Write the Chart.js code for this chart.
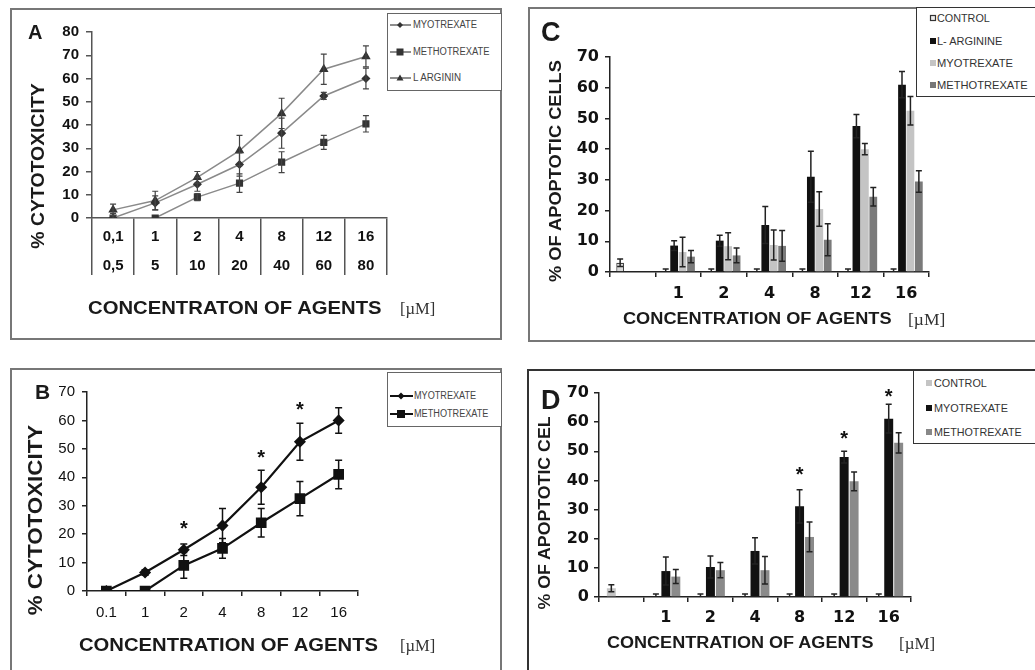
<!DOCTYPE html>
<html>
<head>
<meta charset="utf-8">
<script src="https://cdn.jsdelivr.net/npm/chart.js@4.4.0/dist/chart.umd.min.js"></script>
<style>
body{margin:0;width:1035px;height:670px;position:relative;overflow:hidden;background:#fff;font-family:"Liberation Sans",Arial,sans-serif;color:#1a1a1a}
.box{position:absolute;box-sizing:border-box;border:2px solid #777}
canvas{position:absolute}
.t{position:absolute;white-space:nowrap;line-height:1;transform:translateY(-50%);transform-origin:left center}
.b{font-weight:bold}
.yt{position:absolute;white-space:nowrap;line-height:1;font-weight:bold;transform:translate(-50%,-50%) rotate(-90deg)}
.um{font-family:"Liberation Serif","DejaVu Serif",serif;font-size:17px;color:#333}
.leg{position:absolute;box-sizing:border-box;border:1.5px solid #666;background:#fff}
.li{position:absolute;font-size:10px;color:#444;line-height:1;transform:translateY(-50%);white-space:nowrap;transform-origin:left center}
.lb{position:absolute;font-size:11px;color:#333;line-height:1;transform:translateY(-50%);white-space:nowrap;transform-origin:left center}
svg{position:absolute;overflow:visible}
</style>
</head>
<body>
<div class="box" style="left:10px;top:8px;width:492px;height:332px"></div>
<div class="box" style="left:10px;top:368px;width:492px;height:320px"></div>
<div class="box" style="left:528px;top:7px;width:520px;height:335px"></div>
<div class="box" style="left:527px;top:369px;width:520px;height:320px;border-color:#333"></div>

<canvas id="cA" width="492" height="332" style="left:10px;top:8px"></canvas>
<canvas id="cB" width="492" height="302" style="left:10px;top:368px"></canvas>
<canvas id="cC" width="507" height="334" style="left:528px;top:7px"></canvas>
<canvas id="cD" width="508" height="301" style="left:527px;top:369px"></canvas>

<!-- panel A texts -->
<div class="t b" style="left:28px;top:32px;font-size:20px">A</div>
<div class="yt" data-w="165" style="left:38px;top:166px;font-size:18px">% CYTOTOXICITY</div>
<div class="t b" data-w="294" style="left:88px;top:308px;font-size:18px">CONCENTRATON OF AGENTS</div>
<div class="t um" data-w="35" style="left:400px;top:308px">[µM]</div>
<div class="leg" style="left:387px;top:13px;width:115px;height:78px"></div>
<svg style="left:0;top:0" width="1" height="1">
  <g stroke="#444" stroke-width="1.2"><line x1="390" y1="25" x2="411" y2="25"/><line x1="390" y1="52" x2="411" y2="52"/><line x1="390" y1="78" x2="411" y2="78"/></g>
  <g fill="#333"><polygon points="400,22 403,25 400,28 397,25"/><rect x="396.5" y="48.5" width="7" height="7"/><polygon points="400,74.5 403.5,80.5 396.5,80.5"/></g>
</svg>
<div class="li" data-w="64" style="left:413px;top:25px">MYOTREXATE</div>
<div class="li" data-w="76" style="left:413px;top:52px">METHOTREXATE</div>
<div class="li" data-w="48" style="left:413px;top:78px">L ARGININ</div>

<!-- panel B texts -->
<div class="t b" style="left:35px;top:391px;font-size:21px">B</div>
<div class="yt" data-w="190" style="left:35px;top:520px;font-size:20px">% CYTOTOXICITY</div>
<div class="t b" data-w="299" style="left:79px;top:645px;font-size:18px">CONCENTRATION OF AGENTS</div>
<div class="t um" data-w="35" style="left:400px;top:645px">[µM]</div>
<div class="leg" style="left:387px;top:372px;width:115px;height:55px"></div>
<svg style="left:0;top:0" width="1" height="1">
  <g stroke="#111" stroke-width="2"><line x1="390" y1="396" x2="413" y2="396"/><line x1="390" y1="414" x2="413" y2="414"/></g>
  <g fill="#111"><polygon points="401,392.5 404.5,396 401,399.5 397.5,396"/><rect x="397" y="410" width="8" height="8"/></g>
</svg>
<div class="li" data-w="62" style="left:414px;top:396px">MYOTREXATE</div>
<div class="li" data-w="74" style="left:414px;top:414px">METHOTREXATE</div>

<!-- panel C texts -->
<div class="t b" style="left:541px;top:32px;font-size:27px">C</div>
<div class="yt" data-w="222" style="left:555px;top:171px;font-size:17px">% OF APOPTOTIC CELLS</div>
<div class="t b" data-w="268" style="left:623px;top:319px;font-size:16px">CONCENTRATION OF AGENTS</div>
<div class="t um" data-w="37" style="left:908px;top:319px">[µM]</div>
<div class="leg" style="left:916px;top:7px;width:130px;height:90px;border-color:#333"></div>
<svg style="left:0;top:0" width="1" height="1">
  <rect x="930.5" y="15.5" width="5" height="5" fill="#eee" stroke="#333" stroke-width="1.2"/>
  <rect x="930" y="38" width="6" height="6" fill="#111"/>
  <rect x="930" y="60" width="6" height="6" fill="#c4c4c4"/>
  <rect x="930" y="82" width="6" height="6" fill="#777"/>
</svg>
<div class="lb" data-w="53" style="left:937px;top:18px">CONTROL</div>
<div class="lb" data-w="65" style="left:937px;top:41px">L- ARGININE</div>
<div class="lb" data-w="76" style="left:937px;top:63px">MYOTREXATE</div>
<div class="lb" data-w="91" style="left:937px;top:85px">METHOTREXATE</div>

<!-- panel D texts -->
<div class="t b" style="left:541px;top:400px;font-size:27px">D</div>
<div class="yt" data-w="193" style="left:544px;top:513px;font-size:17px">% OF APOPTOTIC CEL</div>
<div class="t b" data-w="266" style="left:607px;top:643px;font-size:16px">CONCENTRATION OF AGENTS</div>
<div class="t um" data-w="36" style="left:899px;top:643px">[µM]</div>
<div class="leg" style="left:913px;top:370px;width:130px;height:74px;border-color:#333"></div>
<svg style="left:0;top:0" width="1" height="1">
  <rect x="926" y="380" width="6" height="6" fill="#c4c4c4"/>
  <rect x="926" y="405" width="6" height="6" fill="#111"/>
  <rect x="926" y="429" width="6" height="6" fill="#888"/>
</svg>
<div class="lb" data-w="53" style="left:934px;top:383px">CONTROL</div>
<div class="lb" data-w="74" style="left:934px;top:408px">MYOTREXATE</div>
<div class="lb" data-w="88" style="left:934px;top:432px">METHOTREXATE</div>

<script>
// panel A: cytotoxicity, two rows of concentrations
const concA = ["0,1", "1", "2", "4", "8", "12", "16"];
const concA2 = ["0,5", "5", "10", "20", "40", "60", "80"];
const myoA = [0, 6.5, 14.5, 23, 36.5, 52.5, 60];
const myoAErr = [2, 3, 3, 5, 6.5, 1.5, 4.5];
const methoA = [0, 0, 9, 15, 24, 32.5, 40.5];
const methoAErr = [0, 0, 1.5, 4, 4.5, 3, 3.5];
const argA = [3.5, 7.5, 17.5, 29, 45, 64, 69.5];
const argAErr = [2.5, 4, 2.5, 6.5, 6.5, 6.5, 4.5];

// panel B
const concB = ["0.1", "1", "2", "4", "8", "12", "16"];
const myoB = [0, 6.5, 14.5, 23, 36.5, 52.5, 60];
const myoBErr = [0, 1, 2, 6, 6, 6.5, 4.5];
const methoB = [0, 0, 9, 15, 24, 32.5, 41];
const methoBErr = [0, 0, 4.5, 3.5, 5, 6, 5];
const starsB = [null, null, 23, null, 48, 65, null];

// panels C and D: apoptotic cells
const concCD = ["", "1", "2", "4", "8", "12", "16"];
const ctrlC = [3, 0, 0, 0, 0, 0, 0];
const ctrlCErr = [1.2, 1, 1, 1, 1, 1, 1];
const argC = [null, 8.6, 10.2, 15.3, 31, 47.5, 61];
const argCErr = [0, 1.6, 1.8, 6, 8.3, 3.8, 4.3];
const myoC = [null, 6.5, 8.4, 8.8, 20.5, 40, 52.5];
const myoCErr = [0, 4.8, 4.4, 4.9, 5.6, 1.8, 4.6];
const methoC = [null, 5, 5.4, 8.5, 10.5, 24.5, 29.5];
const methoCErr = [0, 2, 2.4, 5, 5.2, 3, 3.5];

const ctrlD = [3, 0, 0, 0, 0, 0, 0];
const ctrlDErr = [1.2, 1, 1, 1, 1, 1, 1];
const myoD = [null, 8.9, 10.3, 15.8, 31.1, 48, 61.2];
const myoDErr = [0, 4.8, 3.8, 4.5, 5.7, 2, 4.9];
const methoD = [null, 7, 9.2, 9.2, 20.6, 39.7, 52.9];
const methoDErr = [0, 2.4, 2.6, 4.7, 5.1, 3.2, 3.5];
const starsD = [null, null, null, null, 43, 55.5, 69.8];

const SANS = "'Liberation Sans', Arial, sans-serif";
const WIDE = "'DejaVu Sans', sans-serif";

// error bars drawn from each dataset's "errors" array through the y scale
const errorBars = {
  id: "errorBars",
  afterDatasetsDraw(chart, args, opts) {
    const ctx = chart.ctx, y = chart.scales.y;
    chart.data.datasets.forEach((ds, i) => {
      if (!ds.errors) return;
      const meta = chart.getDatasetMeta(i);
      meta.data.forEach((el, j) => {
        const v = ds.data[j], e = ds.errors[j];
        if (v == null || !e) return;
        const top = y.getPixelForValue(v + e);
        const bot = y.getPixelForValue(Math.max(v - e, 0));
        ctx.save();
        ctx.strokeStyle = opts.color;
        ctx.lineWidth = opts.width;
        ctx.beginPath();
        ctx.moveTo(el.x, top); ctx.lineTo(el.x, bot);
        ctx.moveTo(el.x - opts.cap, top); ctx.lineTo(el.x + opts.cap, top);
        if (v - e > 0) { ctx.moveTo(el.x - opts.cap, bot); ctx.lineTo(el.x + opts.cap, bot); }
        ctx.stroke();
        ctx.restore();
      });
    });
  }
};

const stars = {
  id: "stars",
  afterDatasetsDraw(chart, args, opts) {
    if (!opts.values) return;
    const ctx = chart.ctx, meta = chart.getDatasetMeta(opts.dataset);
    ctx.save();
    ctx.fillStyle = "#111";
    ctx.font = "bold 20px " + SANS;
    ctx.textAlign = "center";
    ctx.textBaseline = "middle";
    opts.values.forEach((v, j) => {
      if (v == null) return;
      ctx.fillText("*", meta.data[j].x, chart.scales.y.getPixelForValue(v) + 4);
    });
    ctx.restore();
  }
};

function yAxis(max, width, font, color, tick, pad) {
  return {
    min: 0, max: max,
    ticks: { stepSize: 10, padding: pad, color: "#111", font: font },
    grid: { drawOnChartArea: false, tickLength: tick, color: color, lineWidth: 1.5 },
    border: { color: color, width: 1.5 },
    afterFit: s => { s.width = width; }
  };
}

function xAxis(height, font, color, tick, pad) {
  return {
    offset: true,
    ticks: { padding: pad, color: "#111", font: font, maxRotation: 0, autoSkip: false },
    grid: { offset: true, drawOnChartArea: false, tickLength: tick, color: color, lineWidth: 1.5 },
    border: { color: color, width: 1.5 },
    afterFit: s => { s.height = height; }
  };
}

function base(padding, errOpts, starOpts) {
  return {
    responsive: false, animation: false, devicePixelRatio: 1,
    layout: { padding: padding },
    plugins: {
      legend: { display: false }, tooltip: { enabled: false },
      errorBars: errOpts, stars: starOpts || {}
    }
  };
}

// A
const optA = base({ top: 24, left: 0, right: 115, bottom: 0 }, { color: "#444", width: 1.2, cap: 3 });
optA.scales = {
  x: xAxis(122, { family: SANS, size: 15, weight: "bold", lineHeight: "29px" }, "#555", 57, -52.5),
  y: yAxis(80, 82, { family: SANS, size: 15, weight: "bold", lineHeight: 1 }, "#555", 6, 7)
};
new Chart(document.getElementById("cA"), {
  type: "line",
  data: {
    labels: concA.map((c, i) => [c, concA2[i]]),
    datasets: [
      { data: argA, errors: argAErr, borderColor: "#8a8a8a", borderWidth: 1.5, pointStyle: "triangle", pointRadius: 4, backgroundColor: "#333", pointBorderColor: "#333" },
      { data: myoA, errors: myoAErr, borderColor: "#8a8a8a", borderWidth: 1.5, pointStyle: "rectRot", pointRadius: 3.5, backgroundColor: "#333", pointBorderColor: "#333" },
      { data: methoA, errors: methoAErr, borderColor: "#8a8a8a", borderWidth: 1.5, pointStyle: "rect", pointRadius: 4, backgroundColor: "#333", pointBorderColor: "#333" }
    ]
  },
  options: optA,
  plugins: [errorBars, stars]
});

// B
const optB = base({ top: 24, left: 0, right: 144, bottom: 0 }, { color: "#111", width: 1.5, cap: 3.5 }, { values: starsB, dataset: 0 });
optB.scales = {
  x: xAxis(79, { family: SANS, size: 15, lineHeight: 1.2 }, "#222", 5, 8),
  y: yAxis(70, 77, { family: SANS, size: 15, lineHeight: 1 }, "#222", 5, 7)
};
new Chart(document.getElementById("cB"), {
  type: "line",
  data: {
    labels: concB,
    datasets: [
      { data: myoB, errors: myoBErr, borderColor: "#111", borderWidth: 2.2, pointStyle: "rectRot", pointRadius: 4.5, backgroundColor: "#111", pointBorderColor: "#111" },
      { data: methoB, errors: methoBErr, borderColor: "#111", borderWidth: 2.2, pointStyle: "rect", pointRadius: 6, backgroundColor: "#111", pointBorderColor: "#111" }
    ]
  },
  options: optB,
  plugins: [errorBars, stars]
});

// C
const optC = base({ top: 50, left: 0, right: 106, bottom: 0 }, { color: "#222", width: 1.5, cap: 3 });
optC.scales = {
  x: Object.assign(xAxis(69, { family: WIDE, size: 16, weight: "bold", lineHeight: 1.2 }, "#222", 5, 7), { categoryPercentage: 0.74 }),
  y: yAxis(70, 82, { family: WIDE, size: 16, weight: "bold", lineHeight: 1 }, "#222", 5, 6)
};
new Chart(document.getElementById("cC"), {
  type: "bar",
  data: {
    labels: concCD,
    datasets: [
      { data: ctrlC, errors: ctrlCErr, backgroundColor: "#dadada", borderColor: "#444", borderWidth: [1.2, 0, 0, 0, 0, 0, 0] },
      { data: argC, errors: argCErr, backgroundColor: "#111" },
      { data: myoC, errors: myoCErr, backgroundColor: "#c4c4c4" },
      { data: methoC, errors: methoCErr, backgroundColor: "#7a7a7a" }
    ]
  },
  options: Object.assign(optC, { datasets: { bar: { categoryPercentage: 0.74, barPercentage: 0.92 } } }),
  plugins: [errorBars, stars]
});

// D
const optD = base({ top: 24, left: 0, right: 124, bottom: 0 }, { color: "#222", width: 1.5, cap: 3 }, { values: starsD, dataset: 1 });
optD.scales = {
  x: xAxis(73, { family: WIDE, size: 16, weight: "bold", lineHeight: 1.2 }, "#222", 5, 6),
  y: yAxis(70, 72, { family: WIDE, size: 16, weight: "bold", lineHeight: 1 }, "#222", 5, 5)
};
new Chart(document.getElementById("cD"), {
  type: "bar",
  data: {
    labels: concCD,
    datasets: [
      { data: ctrlD, errors: ctrlDErr, backgroundColor: "#c4c4c4" },
      { data: myoD, errors: myoDErr, backgroundColor: "#111" },
      { data: methoD, errors: methoDErr, backgroundColor: "#8a8a8a" }
    ]
  },
  options: Object.assign(optD, { datasets: { bar: { categoryPercentage: 0.67, barPercentage: 0.9 } } }),
  plugins: [errorBars, stars]
});

// stretch html texts to the widths measured on the reference
document.querySelectorAll("[data-w]").forEach(el => {
  const k = +el.dataset.w / el.offsetWidth;
  const t = getComputedStyle(el).transform === "none" ? "" : null;
  if (el.classList.contains("yt")) el.style.transform = "translate(-50%,-50%) rotate(-90deg) scaleX(" + k + ")";
  else el.style.transform = "translateY(-50%) scaleX(" + k + ")";
});
</script>
</body>
</html>
